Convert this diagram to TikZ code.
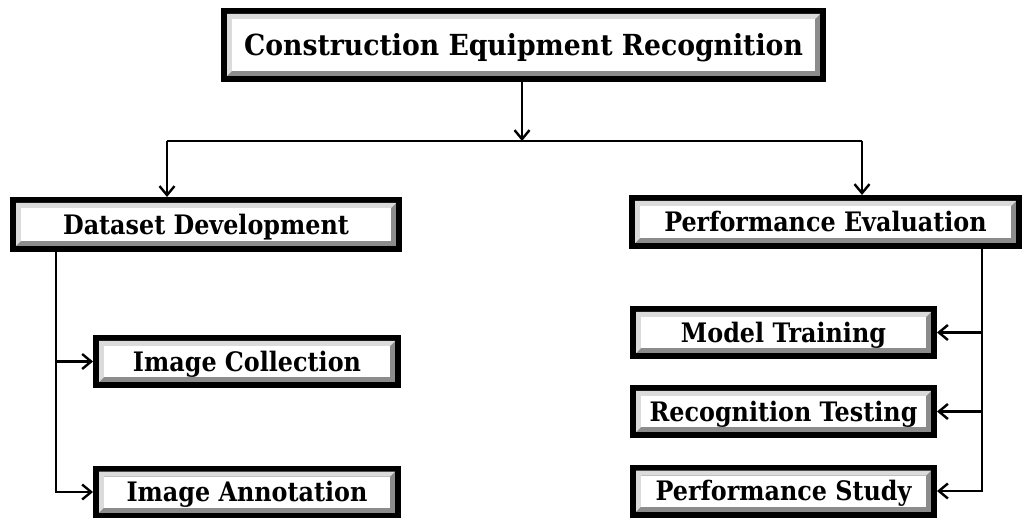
\documentclass[tikz,border=0pt]{standalone}
\usepackage{fontspec}
\setmainfont[FakeStretch=0.92]{DejaVu Serif}
\newfontfamily\boxfont[FakeStretch=0.89]{DejaVu Serif}
\usetikzlibrary{arrows.meta}
\definecolor{bevlight}{gray}{0.86}
\definecolor{bevdark}{gray}{0.55}
\tikzset{
  bevel/.style 2 args={rectangle, inner sep=0pt, outer sep=0pt,
    minimum width=#1pt, minimum height=#2pt, fill=black,
    font=\boxfont\bfseries\fontsize{26.8}{32}\selectfont, text height=19.5pt, text depth=0pt,
    path picture={
      \coordinate (bsw) at (path picture bounding box.south west);
      \coordinate (bne) at (path picture bounding box.north east);
      \coordinate (bnw) at (bsw |- bne);
      % dark bevel (right and bottom) under the light one
      \fill[bevdark] ([shift={(6pt,6pt)}]bsw) rectangle ([shift={(-6pt,-6pt)}]bne);
      % light bevel (left and top) with mitred ends
      \fill[bevlight] ([shift={(6pt,6pt)}]bsw) -- ([shift={(11pt,11pt)}]bsw)
        -- ([shift={(11pt,-11pt)}]bnw) -- ([shift={(-11pt,-11pt)}]bne)
        -- ([shift={(-6pt,-6pt)}]bne) -- ([shift={(6pt,-6pt)}]bnw) -- cycle;
      \fill[white] ([shift={(11pt,11pt)}]bsw) rectangle ([shift={(-11pt,-11pt)}]bne);
    }},
  titlebox/.style={font=\rmfamily\bfseries\fontsize{29}{34}\selectfont, text height=21pt},
  link/.style={line width=2.4pt},
  arr/.style={link, -{Straight Barb[length=9pt,width=15pt]}},
}
\begin{document}
\begin{tikzpicture}[x=1pt,y=-1pt]
  \useasboundingbox (0,0) rectangle (1028,518);

  % boxes
  \node[bevel={605}{74}, titlebox] (top) at (523.5,45) {Construction Equipment Recognition};
  \node[bevel={392}{55}] (dd) at (206,224.5) {Dataset Development};
  \node[bevel={393}{54}] (pe) at (825.5,222) {Performance Evaluation};
  \node[bevel={308}{53}] (ic) at (247,361.5) {Image Collection};
  \node[bevel={308}{53}] (ia) at (247,492) {Image Annotation};
  \node[bevel={307}{53}] (mt) at (783.5,332.5) {Model Training};
  \node[bevel={307}{53}] (rt) at (783.5,411.5) {Recognition Testing};
  \node[bevel={307}{53}] (ps) at (783.5,491) {Performance Study};

  % junction points
  \coordinate (split) at (522,141);
  \coordinate (lj) at (167,141);
  \coordinate (rj) at (862,141);
  \coordinate (lbus) at (56,0);
  \coordinate (rbus) at (982,0);

  % top level split
  \draw[arr] (top.south -| split) -- (split);
  \draw[link] (lj) -- (rj);
  \draw[arr] (lj) -- (lj |- dd.north);
  \draw[arr] (rj) -- (rj |- pe.north);

  % left branch
  \draw[arr] (lbus |- dd.south) |- (ia.west);
  \draw[arr] (lbus |- ic.west) -- (ic.west);

  % right branch
  \draw[arr] (rbus |- pe.south) |- (ps.east);
  \draw[arr] (rbus |- mt.east) -- (mt.east);
  \draw[arr] (rbus |- rt.east) -- (rt.east);
\end{tikzpicture}
\end{document}
